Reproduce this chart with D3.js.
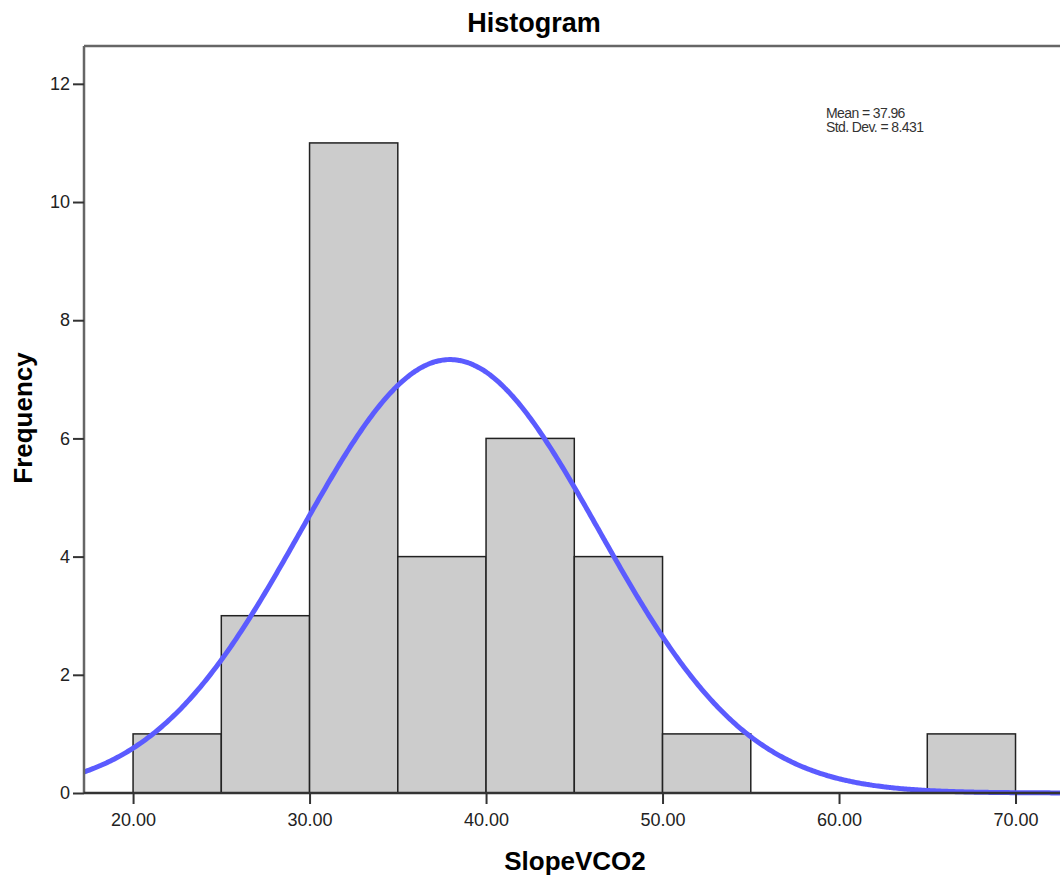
<!DOCTYPE html>
<html>
<head>
<meta charset="utf-8">
<script src="https://cdn.jsdelivr.net/npm/d3@7"></script>
<style>
  body { margin: 0; background: #fff; }
  svg text { font-family: Arial, "Liberation Sans", sans-serif; }
</style>
</head>
<body>
<svg id="chart"></svg>
<script>
// bins of SlopeVCO2 (lower edge, upper edge) and their counts
const binStarts = [20, 25, 30, 35, 40, 45, 50, 65];
const binEnds = [25, 30, 35, 40, 45, 50, 55, 70];
const counts = [1, 3, 11, 4, 6, 4, 1, 1];
const xTicks = [20, 30, 40, 50, 60, 70];
const yTicks = [0, 2, 4, 6, 8, 10, 12];
const mean = 37.96;
const sd = 8.431;

const W = 1060, H = 882;
const margin = {top: 46, left: 84, bottom: 89, right: 0};
const width = W - margin.left - margin.right;
const height = H - margin.top - margin.bottom;

const svg = d3.select('#chart')
.attr('width', W)
.attr('height', H)
.append('g')
.attr('transform', `translate(${margin.left}, ${margin.top})`);

const x = d3.scaleLinear()
.domain([17.22, 72.52])
.range([0, width]);

const y = d3.scaleLinear()
.domain([0, 12.64])
.range([height, 0]);

svg.selectAll('rect.bar')
.data(counts)
.enter()
.append('rect')
.attr('class', 'bar')
.attr('x', (d, i) => x(binStarts[i]))
.attr('y', d => y(d))
.attr('width', (d, i) => x(binEnds[i]) - x(binStarts[i]))
.attr('height', d => y(0) - y(d))
.attr('fill', '#cccccc')
.attr('stroke', '#222')
.attr('stroke-width', 1.5);

// normal curve scaled to counts (n * bin width * pdf)
const n = d3.sum(counts);
const bw = 5;
const curveX = d3.range(17.22, 72.6, 0.1);
const curve = d3.line()
.x(d => x(d))
.y(d => y(n * bw * Math.exp(-0.5 * ((d - mean) / sd) ** 2) / (sd * Math.sqrt(2 * Math.PI))))
.curve(d3.curveBasis);

svg.append('path')
.datum(curveX)
.attr('fill', 'none')
.attr('stroke', '#5b5bff')
.attr('stroke-width', 5)
.attr('d', curve);

// frame top line
svg.append('line')
.attr('x1', 0).attr('x2', width)
.attr('y1', 0).attr('y2', 0)
.attr('stroke', '#666').attr('stroke-width', 2.5);

const yAxis = svg.append('g')
.call(d3.axisLeft(y).tickValues(yTicks).tickSize(11).tickPadding(3));
yAxis.select('.domain').attr('stroke', '#666').attr('stroke-width', 2.5)
.attr('d', `M0,${height}V0`);
yAxis.selectAll('.tick line').attr('stroke', '#333').attr('stroke-width', 2);
yAxis.selectAll('.tick text').style('font-size', '18px').style('fill', '#222');

const xAxis = svg.append('g')
.attr('transform', `translate(0, ${height})`)
.call(d3.axisBottom(x).tickValues(xTicks).tickSize(11).tickPadding(9).tickFormat(d3.format('.2f')));
xAxis.select('.domain').attr('stroke', '#333').attr('stroke-width', 2.5)
.attr('d', `M0,0H${width}`);
xAxis.selectAll('.tick line').attr('stroke', '#333').attr('stroke-width', 2);
xAxis.selectAll('.tick text').style('font-size', '18px').style('fill', '#222');

d3.select('#chart').append('text')
.attr('x', 534).attr('y', 32)
.attr('text-anchor', 'middle')
.style('font-size', '27px').style('font-weight', 'bold')
.text('Histogram');

d3.select('#chart').append('text')
.attr('x', 575).attr('y', 870)
.attr('text-anchor', 'middle')
.style('font-size', '26px').style('font-weight', 'bold')
.text('SlopeVCO2');

d3.select('#chart').append('text')
.attr('transform', 'rotate(-90)')
.attr('x', -418).attr('y', 32)
.attr('text-anchor', 'middle')
.style('font-size', '26px').style('font-weight', 'bold')
.text('Frequency');

const stats = d3.select('#chart').append('g')
.style('font-size', '14px').style('fill', '#333').style('letter-spacing', '-0.6px');
stats.append('text').attr('x', 826).attr('y', 118).text('Mean = ' + mean);
stats.append('text').attr('x', 826).attr('y', 132).text('Std. Dev. = ' + sd);
</script>
</body>
</html>
